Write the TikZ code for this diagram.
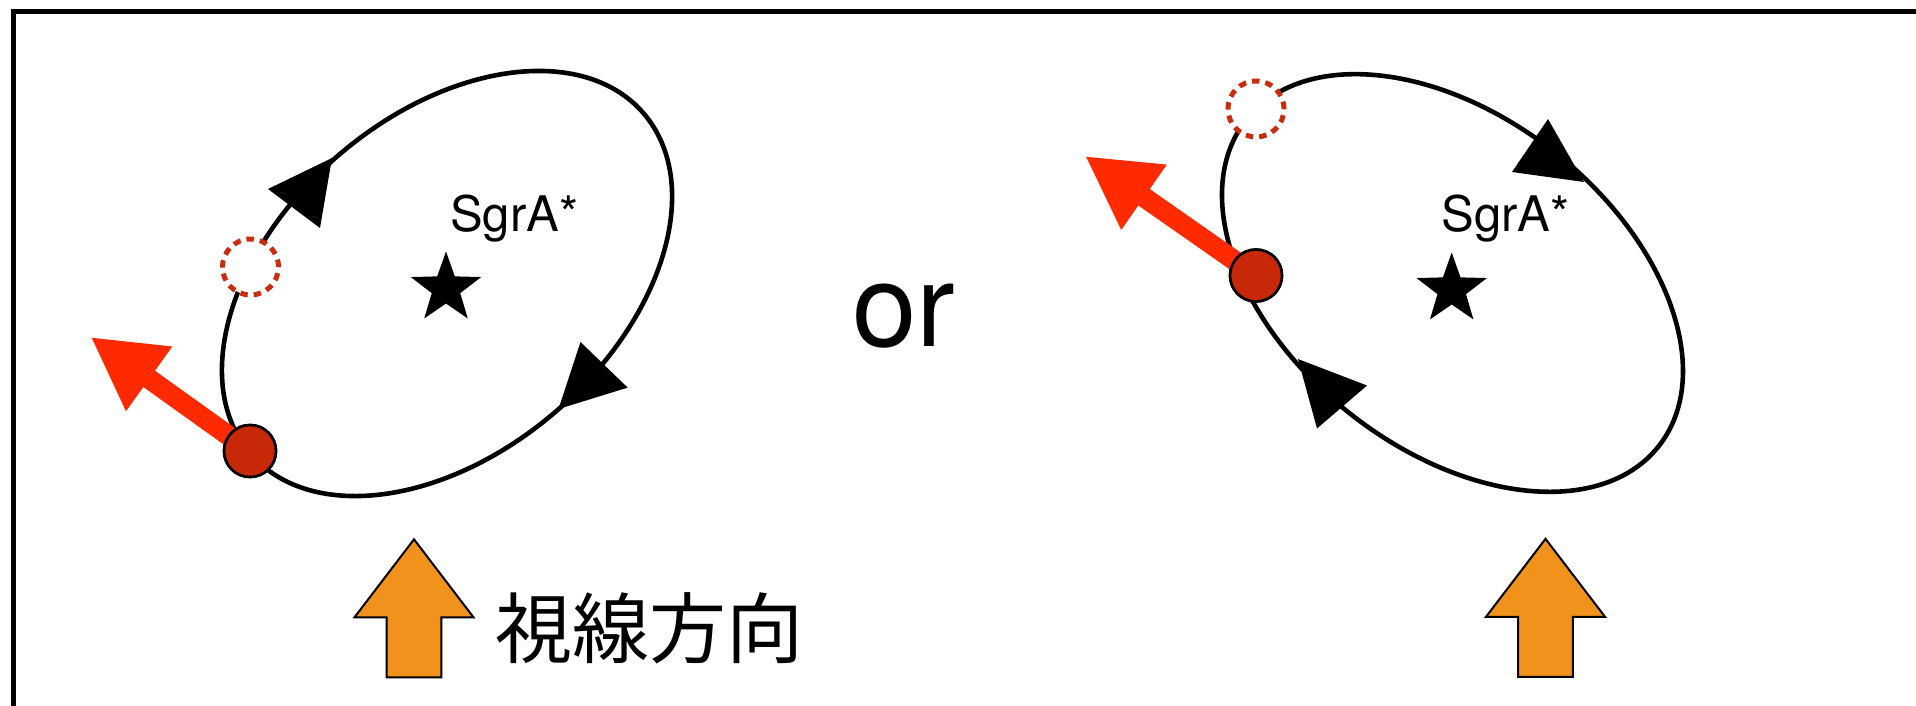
\documentclass[tikz,border=0pt]{standalone}
\usepackage{fontspec}
\setmainfont{TeX Gyre Heros}
\newfontfamily\jpfont{Noto Sans CJK JP}
\usetikzlibrary{arrows.meta}
\definecolor{orbitdot}{RGB}{198,40,8}
\definecolor{ghostred}{RGB}{200,45,15}
\definecolor{velred}{RGB}{255,42,0}
\definecolor{sightorange}{RGB}{240,146,28}
\begin{document}
\begin{tikzpicture}[x=1pt,y=-1pt,
  frameline/.style={line width=5.5pt, line join=miter},
  orbit/.style={line width=4.6pt},
  headtri/.style={fill=black},
  reddot/.style={circle, fill=orbitdot, draw=black, line width=2.6pt, minimum size=52pt, inner sep=0pt},
  ghost/.style={circle, fill=white, draw=ghostred, line width=5pt, dash pattern=on 7.5pt off 6pt, minimum size=56pt, inner sep=0pt},
  lab/.style={inner sep=0pt, font=\fontsize{49}{55}\selectfont, anchor=base west},
  velocity/.style={draw=velred, line width=20pt, -{Triangle[length=72pt,width=74pt]}},
  sightarrow/.pic={\draw[fill=sightorange, line width=2pt, line join=miter]
     (0,0) -- (59.5,78) -- (27.3,78) -- (27.3,138) -- (-27.3,138) -- (-27.3,78) -- (-59.5,78) -- cycle;},
  starpic/.pic={\fill[black] (-90:37) -- (-54:15) -- (-18:37) -- (18:15) -- (54:37) -- (90:15)
     -- (126:37) -- (162:15) -- (198:37) -- (234:15) -- cycle;}
]
\useasboundingbox (0,0) rectangle (1916,705);
\fill[white] (0,0) rectangle (1916,705);
% frame (top and left edges)
\coordinate (FB) at (13.5,710);
\coordinate (FC) at (13.5,11.5);
\coordinate (FR) at (1921,11.5);
\draw[frameline] (FB) -- (FC) -- (FR);

% ---------- left orbit ----------
\coordinate (Lc) at (447,283.5);
\draw[orbit, rotate around={41:(Lc)}] (Lc) ellipse [x radius=260pt, y radius=168pt];
\fill[headtri] (332,158) -- (268,189) -- (320,228) -- cycle;
\fill[headtri] (558.5,409) -- (580.5,342) -- (627.7,387.6) -- cycle;
\coordinate (Ltip) at (90.6,337);
\node[reddot] (Ldot) at (250,451) {};
\draw[velocity] (Ldot.center) -- (Ltip);
\node[reddot] at (Ldot) {};
\node[ghost] (Lghost) at (250.5,267) {};
\pic (Lstar) at (446,288.5) {starpic};
\node[lab] (Llab) at (450,231.7) {SgrA*};

% ---------- or ----------
\node[inner sep=0pt, anchor=base west, font=\fontsize{116}{130}\selectfont] (or) at (852,346.7) {or};

% ---------- right orbit ----------
\coordinate (Rc) at (1452.5,283);
\draw[orbit, rotate around={-38.4:(Rc)}] (Rc) ellipse [x radius=263pt, y radius=166pt];
\fill[headtri] (1584,182) -- (1548,119) -- (1512,172) -- cycle;
\fill[headtri] (1298,359) -- (1367,385.5) -- (1317,428.5) -- cycle;
\coordinate (Rtip) at (1085,156);
\node[reddot] (Rdot) at (1256,275.5) {};
\draw[velocity] (Rdot.center) -- (Rtip);
\node[reddot] at (Rdot) {};
\node[ghost] (Rghost) at (1256,109) {};
\pic (Rstar) at (1451.7,289.5) {starpic};
\node[lab] (Rlab) at (1441.5,231.7) {SgrA*};

% ---------- line of sight ----------
\pic at (414,539.3) {sightarrow};
\pic at (1545.5,538.8) {sightarrow};
\node[inner sep=0pt, anchor=base west, font=\jpfont\fontsize{77}{85}\selectfont] (sight) at (495,657.6) {視線方向};
\end{tikzpicture}
\end{document}
